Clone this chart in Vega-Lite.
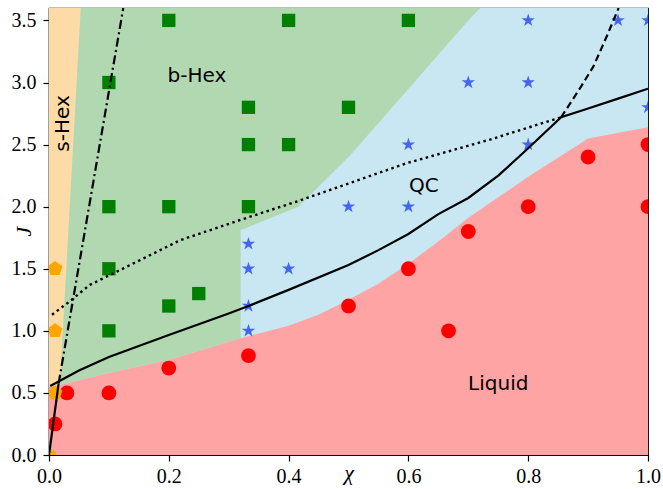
{
  "$schema": "https://vega.github.io/schema/vega-lite/v6.json",
  "width": 599,
  "height": 447,
  "autosize": {"type": "none"},
  "padding": {"left": 49, "top": 8, "right": 15, "bottom": 34},
  "background": "white",
  "config": {
    "view": {"stroke": "black", "strokeWidth": 1.2},
    "axis": {
      "grid": false,
      "domainColor": "black",
      "domainWidth": 1.2,
      "tickColor": "black",
      "tickWidth": 1.2,
      "tickSize": 6,
      "labelColor": "black",
      "labelFont": "Liberation Serif",
      "labelFontSize": 20,
      "titleColor": "black",
      "titleFont": "Liberation Serif",
      "titleFontSize": 22,
      "titleFontStyle": "italic",
      "titleFontWeight": "normal",
      "labelFlush": false,
      "labelOverlap": false
    }
  },
  "datasets": {
    "blue": [
      {"chi": 0, "J": 3.6, "J2": 0},
      {"chi": 1, "J": 3.6, "J2": 0}
    ],
    "green": [
      {"chi": 0.0, "J": 0.55, "J2": 3.6},
      {"chi": 0.02, "J": 0.565, "J2": 3.6},
      {"chi": 0.1, "J": 0.66, "J2": 3.6},
      {"chi": 0.2, "J": 0.765, "J2": 3.6},
      {"chi": 0.3199, "J": 0.94, "J2": 3.6},
      {"chi": 0.32, "J": 1.81, "J2": 3.6},
      {"chi": 0.416, "J": 2.0, "J2": 3.6},
      {"chi": 0.503, "J": 2.415, "J2": 3.6},
      {"chi": 0.7, "J": 3.5, "J2": 3.6},
      {"chi": 0.72, "J": 3.6, "J2": 3.6}
    ],
    "orange": [
      {"J": 0.55, "chi": 0, "chi2": 0.0178},
      {"J": 3.6, "chi": 0, "chi2": 0.053}
    ],
    "red": [
      {"chi": 0.0, "J": 0.55, "J2": 0},
      {"chi": 0.02, "J": 0.565, "J2": 0},
      {"chi": 0.1, "J": 0.66, "J2": 0},
      {"chi": 0.2, "J": 0.765, "J2": 0},
      {"chi": 0.32, "J": 0.94, "J2": 0},
      {"chi": 0.4, "J": 1.04, "J2": 0},
      {"chi": 0.45, "J": 1.13, "J2": 0},
      {"chi": 0.5, "J": 1.25, "J2": 0},
      {"chi": 0.55, "J": 1.38, "J2": 0},
      {"chi": 0.6, "J": 1.54, "J2": 0},
      {"chi": 0.65, "J": 1.72, "J2": 0},
      {"chi": 0.7, "J": 1.91, "J2": 0},
      {"chi": 0.8, "J": 2.24, "J2": 0},
      {"chi": 0.9, "J": 2.55, "J2": 0},
      {"chi": 1.0, "J": 2.64, "J2": 0}
    ],
    "points": [
      {"chi": 0.1, "J": 3.0, "phase": "b-Hex"},
      {"chi": 0.2, "J": 3.5, "phase": "b-Hex"},
      {"chi": 0.4, "J": 3.5, "phase": "b-Hex"},
      {"chi": 0.6, "J": 3.5, "phase": "b-Hex"},
      {"chi": 0.333, "J": 2.8, "phase": "b-Hex"},
      {"chi": 0.5, "J": 2.8, "phase": "b-Hex"},
      {"chi": 0.333, "J": 2.5, "phase": "b-Hex"},
      {"chi": 0.4, "J": 2.5, "phase": "b-Hex"},
      {"chi": 0.1, "J": 2.0, "phase": "b-Hex"},
      {"chi": 0.2, "J": 2.0, "phase": "b-Hex"},
      {"chi": 0.333, "J": 2.0, "phase": "b-Hex"},
      {"chi": 0.1, "J": 1.5, "phase": "b-Hex"},
      {"chi": 0.2, "J": 1.2, "phase": "b-Hex"},
      {"chi": 0.25, "J": 1.3, "phase": "b-Hex"},
      {"chi": 0.1, "J": 1.0, "phase": "b-Hex"},
      {"chi": 0.8, "J": 3.5, "phase": "QC"},
      {"chi": 0.95, "J": 3.5, "phase": "QC"},
      {"chi": 1.0, "J": 3.5, "phase": "QC"},
      {"chi": 0.7, "J": 3.0, "phase": "QC"},
      {"chi": 0.8, "J": 3.0, "phase": "QC"},
      {"chi": 1.0, "J": 2.8, "phase": "QC"},
      {"chi": 0.6, "J": 2.5, "phase": "QC"},
      {"chi": 0.8, "J": 2.5, "phase": "QC"},
      {"chi": 0.5, "J": 2.0, "phase": "QC"},
      {"chi": 0.6, "J": 2.0, "phase": "QC"},
      {"chi": 0.333, "J": 1.7, "phase": "QC"},
      {"chi": 0.333, "J": 1.5, "phase": "QC"},
      {"chi": 0.4, "J": 1.5, "phase": "QC"},
      {"chi": 0.333, "J": 1.2, "phase": "QC"},
      {"chi": 0.333, "J": 1.0, "phase": "QC"},
      {"chi": 0.01, "J": 0.25, "phase": "Liquid"},
      {"chi": 0.03, "J": 0.5, "phase": "Liquid"},
      {"chi": 0.1, "J": 0.5, "phase": "Liquid"},
      {"chi": 0.2, "J": 0.7, "phase": "Liquid"},
      {"chi": 0.333, "J": 0.8, "phase": "Liquid"},
      {"chi": 0.5, "J": 1.2, "phase": "Liquid"},
      {"chi": 0.6, "J": 1.5, "phase": "Liquid"},
      {"chi": 0.667, "J": 1.0, "phase": "Liquid"},
      {"chi": 0.7, "J": 1.8, "phase": "Liquid"},
      {"chi": 0.8, "J": 2.0, "phase": "Liquid"},
      {"chi": 0.9, "J": 2.4, "phase": "Liquid"},
      {"chi": 1.0, "J": 2.5, "phase": "Liquid"},
      {"chi": 1.0, "J": 2.0, "phase": "Liquid"},
      {"chi": 0.01, "J": 1.5, "phase": "s-Hex"},
      {"chi": 0.01, "J": 1.0, "phase": "s-Hex"},
      {"chi": 0.01, "J": 0.5, "phase": "s-Hex"},
      {"chi": 0.0, "J": 0.0, "phase": "s-Hex"}
    ],
    "solid": [
      {"chi": 0.0, "J": 0.0, "seg": "a"},
      {"chi": 0.016, "J": 0.575, "seg": "a"},
      {"chi": 0.002, "J": 0.555, "seg": "b"},
      {"chi": 0.05, "J": 0.68, "seg": "b"},
      {"chi": 0.1, "J": 0.79, "seg": "b"},
      {"chi": 0.2, "J": 0.966, "seg": "b"},
      {"chi": 0.3, "J": 1.14, "seg": "b"},
      {"chi": 0.333, "J": 1.2, "seg": "b"},
      {"chi": 0.4, "J": 1.33, "seg": "b"},
      {"chi": 0.5, "J": 1.53, "seg": "b"},
      {"chi": 0.55, "J": 1.65, "seg": "b"},
      {"chi": 0.6, "J": 1.78, "seg": "b"},
      {"chi": 0.65, "J": 1.94, "seg": "b"},
      {"chi": 0.7, "J": 2.07, "seg": "b"},
      {"chi": 0.75, "J": 2.25, "seg": "b"},
      {"chi": 0.8, "J": 2.47, "seg": "b"},
      {"chi": 0.855, "J": 2.72, "seg": "b"},
      {"chi": 0.9, "J": 2.79, "seg": "b"},
      {"chi": 0.95, "J": 2.87, "seg": "b"},
      {"chi": 1.0, "J": 2.95, "seg": "b"}
    ],
    "dashdot": [
      {"chi": 0.016, "J": 0.575},
      {"chi": 0.124, "J": 3.6}
    ],
    "dashed": [
      {"chi": 0.855, "J": 2.72},
      {"chi": 0.886, "J": 2.95},
      {"chi": 0.909, "J": 3.13},
      {"chi": 0.931, "J": 3.37},
      {"chi": 0.951, "J": 3.6}
    ],
    "dotted": [
      {"chi": 0.005, "J": 1.13},
      {"chi": 0.034, "J": 1.235},
      {"chi": 0.068, "J": 1.37},
      {"chi": 0.102, "J": 1.45},
      {"chi": 0.219, "J": 1.73},
      {"chi": 0.33, "J": 1.91},
      {"chi": 0.419, "J": 2.05},
      {"chi": 0.597, "J": 2.35},
      {"chi": 0.736, "J": 2.54},
      {"chi": 0.855, "J": 2.72}
    ],
    "labels": [
      {"chi": 0.247, "J": 3.05, "label": "b-Hex"},
      {"chi": 0.626, "J": 2.17, "label": "QC"},
      {"chi": 0.75, "J": 0.57, "label": "Liquid"}
    ],
    "vlabels": [
      {"chi": 0.024, "J": 2.67, "label": "s-Hex"}
    ]
  },
  "layer": [
    {
      "data": {"name": "blue"},
      "mark": {"type": "area", "orient": "vertical", "color": "#c8e7f3"},
      "encoding": {
        "x": {
          "field": "chi", "type": "quantitative", "title": "χ",
          "scale": {"domain": [0, 1], "nice": false, "zero": false},
          "axis": {
            "values": [0, 0.2, 0.4, 0.6, 0.8, 1.0],
            "format": ".1f",
            "labelPadding": 5,
            "titleY": 17,
            "titleBaseline": "middle"
          }
        },
        "y": {
          "field": "J", "type": "quantitative", "title": "J",
          "scale": {"domain": [0, 3.6], "nice": false, "zero": false},
          "axis": {
            "values": [0, 0.5, 1.0, 1.5, 2.0, 2.5, 3.0, 3.5],
            "format": ".1f",
            "labelPadding": 7,
            "titleX": -26,
            "titleY": 223,
            "titleAngle": 270,
            "titleAlign": "center",
            "titleBaseline": "middle"
          }
        },
        "y2": {"field": "J2"}
      }
    },
    {
      "data": {"name": "green"},
      "mark": {"type": "area", "orient": "vertical", "color": "#b2d8b2"},
      "encoding": {
        "x": {"field": "chi", "type": "quantitative", "title": "χ"},
        "y": {"field": "J", "type": "quantitative", "title": "J"},
        "y2": {"field": "J2"}
      }
    },
    {
      "data": {"name": "orange"},
      "mark": {"type": "area", "orient": "horizontal", "color": "#fddba6"},
      "encoding": {
        "y": {"field": "J", "type": "quantitative", "title": "J"},
        "x": {"field": "chi", "type": "quantitative", "title": "χ"},
        "x2": {"field": "chi2"}
      }
    },
    {
      "data": {"name": "red"},
      "mark": {"type": "area", "orient": "vertical", "color": "#fea4a4"},
      "encoding": {
        "x": {"field": "chi", "type": "quantitative", "title": "χ"},
        "y": {"field": "J", "type": "quantitative", "title": "J"},
        "y2": {"field": "J2"}
      }
    },
    {
      "data": {"name": "points"},
      "mark": {"type": "point", "filled": true, "opacity": 1, "clip": true},
      "encoding": {
        "x": {"field": "chi", "type": "quantitative", "title": "χ"},
        "y": {"field": "J", "type": "quantitative", "title": "J"},
        "shape": {
          "field": "phase", "type": "nominal", "legend": null,
          "scale": {
            "domain": ["b-Hex", "QC", "Liquid", "s-Hex"],
            "range": [
              "square",
              "M0,-1L0.2245,-0.309L0.951,-0.309L0.363,0.118L0.588,0.809L0,0.382L-0.588,0.809L-0.363,0.118L-0.951,-0.309L-0.2245,-0.309Z",
              "circle",
              "M0,-1L0.951,-0.309L0.588,0.809L-0.588,0.809L-0.951,-0.309Z"
            ]
          }
        },
        "color": {
          "field": "phase", "type": "nominal", "legend": null,
          "scale": {
            "domain": ["b-Hex", "QC", "Liquid", "s-Hex"],
            "range": ["#008000", "#4466ee", "#ff0000", "#ffa500"]
          }
        },
        "size": {
          "field": "phase", "type": "nominal", "legend": null,
          "scale": {
            "domain": ["b-Hex", "QC", "Liquid", "s-Hex"],
            "range": [177, 240, 150, 190]
          }
        }
      }
    },
    {
      "data": {"name": "solid"},
      "mark": {"type": "line", "color": "black", "strokeWidth": 2.2, "clip": true},
      "encoding": {
        "x": {"field": "chi", "type": "quantitative", "title": "χ"},
        "y": {"field": "J", "type": "quantitative", "title": "J"},
        "detail": {"field": "seg", "type": "nominal"}
      }
    },
    {
      "data": {"name": "dashdot"},
      "mark": {"type": "line", "color": "black", "strokeWidth": 2.2, "strokeDash": [9, 3.5, 2, 3.5], "clip": true},
      "encoding": {
        "x": {"field": "chi", "type": "quantitative", "title": "χ"},
        "y": {"field": "J", "type": "quantitative", "title": "J"}
      }
    },
    {
      "data": {"name": "dashed"},
      "mark": {"type": "line", "color": "black", "strokeWidth": 2.2, "strokeDash": [7, 4], "clip": true},
      "encoding": {
        "x": {"field": "chi", "type": "quantitative", "title": "χ"},
        "y": {"field": "J", "type": "quantitative", "title": "J"}
      }
    },
    {
      "data": {"name": "dotted"},
      "mark": {"type": "line", "color": "black", "strokeWidth": 2.4, "strokeDash": [2.5, 3.5], "clip": true},
      "encoding": {
        "x": {"field": "chi", "type": "quantitative", "title": "χ"},
        "y": {"field": "J", "type": "quantitative", "title": "J"}
      }
    },
    {
      "data": {"name": "labels"},
      "mark": {"type": "text", "font": "DejaVu Sans", "fontSize": 20, "color": "black", "align": "center", "baseline": "middle"},
      "encoding": {
        "x": {"field": "chi", "type": "quantitative", "title": "χ"},
        "y": {"field": "J", "type": "quantitative", "title": "J"},
        "text": {"field": "label", "type": "nominal"}
      }
    },
    {
      "data": {"name": "vlabels"},
      "mark": {"type": "text", "font": "DejaVu Sans", "fontSize": 20, "color": "black", "align": "center", "baseline": "middle", "angle": 270},
      "encoding": {
        "x": {"field": "chi", "type": "quantitative", "title": "χ"},
        "y": {"field": "J", "type": "quantitative", "title": "J"},
        "text": {"field": "label", "type": "nominal"}
      }
    }
  ]
}
